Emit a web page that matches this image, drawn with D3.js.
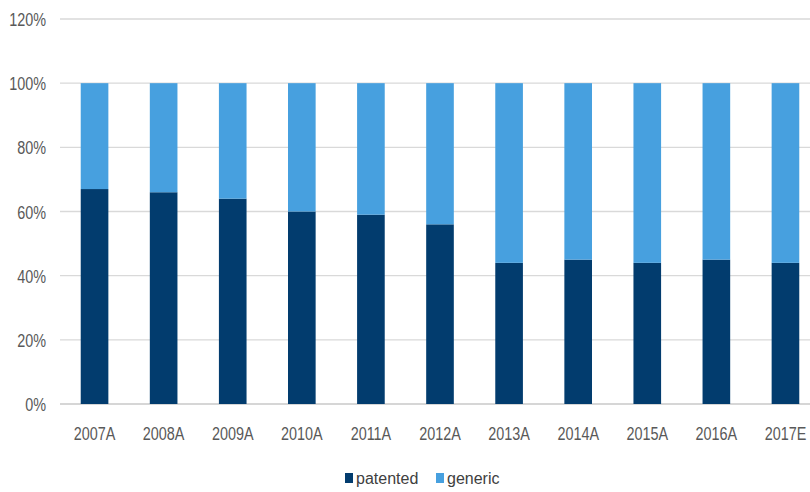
<!DOCTYPE html>
<html>
<head>
<meta charset="utf-8">
<script src="https://cdn.jsdelivr.net/npm/d3@7/dist/d3.min.js"></script>
<style>
  html, body { margin: 0; padding: 0; background: #fff; }
  svg { display: block; }
  .tick-label { font-family: "Liberation Sans", Arial, sans-serif; font-size: 18px; fill: #595959; }
  .legend-label { font-family: "Liberation Sans", Arial, sans-serif; font-size: 16px; fill: #404040; }
</style>
</head>
<body>
<svg id="chart" width="810" height="492"></svg>
<script>
// Share of patented vs generic, by year
const categories = ["2007A", "2008A", "2009A", "2010A", "2011A", "2012A", "2013A", "2014A", "2015A", "2016A", "2017E"];
const patented = [0.67, 0.66, 0.64, 0.60, 0.59, 0.56, 0.44, 0.45, 0.44, 0.45, 0.44];
const generic = patented.map(p => 1 - p);
const yTicks = [0, 0.2, 0.4, 0.6, 0.8, 1.0, 1.2];
const seriesNames = ["patented", "generic"];
const colors = ["#023c6e", "#47a0df"];

const svg = d3.select("#chart");

const x = d3.scaleBand().domain(categories).range([60, 820]).paddingInner(0.6).paddingOuter(0.3);
const y = d3.scaleLinear().domain([0, 1.2]).range([404, 19]);

// horizontal gridlines
svg.append("g").selectAll("line")
  .data(yTicks)
  .join("line")
  .attr("x1", 60).attr("x2", 810)
  .attr("y1", d => y(d)).attr("y2", d => y(d))
  .attr("stroke", d => d === 0 ? "#c8c8c8" : "#d9d9d9")
  .attr("stroke-width", 1.3);

// y tick labels (narrowed glyphs)
const yAxis = d3.axisLeft(y).tickValues(yTicks).tickFormat(d3.format(".0%")).tickSize(0).tickPadding(0);
const yg = svg.append("g").attr("transform", "translate(46,0)").call(yAxis);
yg.select(".domain").remove();
yg.selectAll("text")
  .attr("class", "tick-label")
  .attr("font-family", null).attr("font-size", null)
  .attr("dy", null).attr("x", 0)
  .attr("transform", "translate(0,6.5) scale(0.8,1.04)");

// stacked bars
const rows = categories.map((c, i) => ({ cat: c, patented: patented[i], generic: generic[i] }));
const stacked = d3.stack().keys(seriesNames)(rows);

svg.append("g").selectAll("g")
  .data(stacked)
  .join("g")
  .attr("fill", (d, i) => colors[i])
  .selectAll("rect")
  .data(d => d)
  .join("rect")
  .attr("x", d => x(d.data.cat))
  .attr("width", x.bandwidth())
  .attr("y", d => y(d[1]))
  .attr("height", d => y(d[0]) - y(d[1]));

// x tick labels (narrowed glyphs)
const xAxis = d3.axisBottom(x).tickSize(0).tickPadding(0);
const xg = svg.append("g").attr("transform", "translate(0,440)").call(xAxis);
xg.select(".domain").remove();
xg.selectAll("text")
  .attr("class", "tick-label")
  .attr("font-family", null).attr("font-size", null)
  .attr("dy", null).attr("y", 0)
  .attr("transform", "scale(0.8,1.04)");

// legend
const legendItems = [
  { name: seriesNames[0], color: colors[0], x: 345 },
  { name: seriesNames[1], color: colors[1], x: 436 }
];
const lg = svg.append("g");
lg.selectAll("rect")
  .data(legendItems)
  .join("rect")
  .attr("x", d => d.x).attr("y", 473)
  .attr("width", 8).attr("height", 10)
  .attr("fill", d => d.color);
lg.selectAll("text")
  .data(legendItems)
  .join("text")
  .attr("class", "legend-label")
  .attr("x", d => d.x + 11)
  .attr("y", 484)
  .text(d => d.name);
</script>
</body>
</html>
